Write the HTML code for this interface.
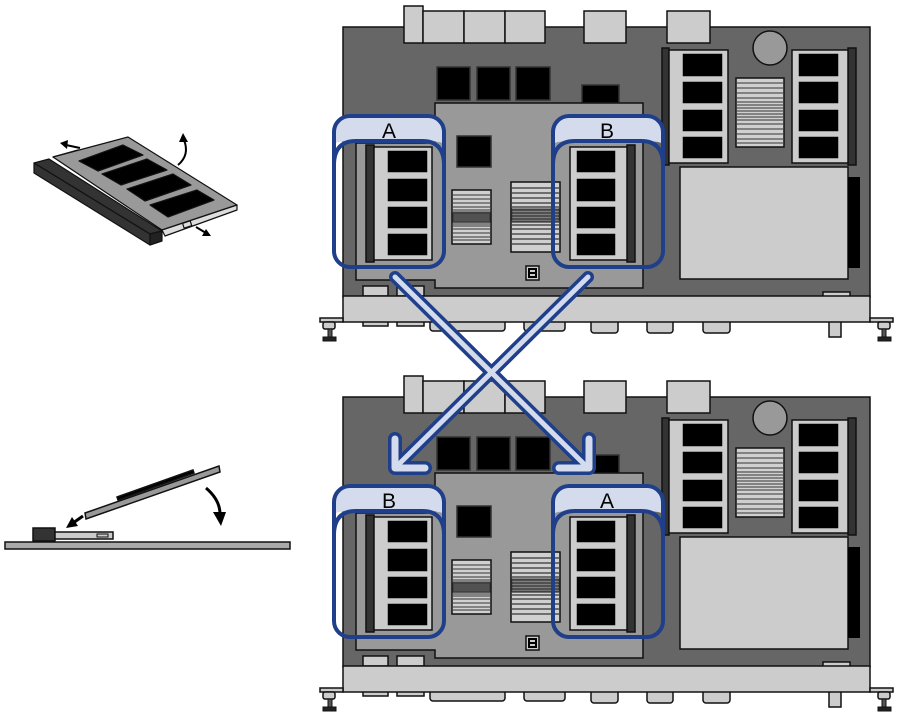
<!DOCTYPE html>
<html><head><meta charset="utf-8"><style>
html,body{margin:0;padding:0;background:#fff;}
svg{display:block;}
text{font-family:"Liberation Sans",sans-serif;}
</style></head><body>
<svg width="901" height="717" viewBox="0 0 901 717" xmlns="http://www.w3.org/2000/svg">
<defs>
<g id="hs1">
<rect x="0" y="0" width="39" height="54" fill="#d0d0d0" stroke="#111" stroke-width="1.5"/>
<g stroke="#333" stroke-width="1">
<path d="M1 5H38M1 9H38M1 13H38M1 17H38M1 20H38M1 22H38M1 24H38M1 26H38M1 28H38M1 30H38M1 32H38M1 34H38M1 36H38M1 39H38M1 43H38M1 47H38M1 50H38"/>
</g>
<rect x="1" y="23" width="37" height="9" fill="#333" opacity="0.6"/>
</g>
<g id="hs2">
<rect x="0" y="0" width="49" height="70" fill="#d0d0d0" stroke="#111" stroke-width="1.5"/>
<g stroke="#333" stroke-width="1.2">
<path d="M1 6H48M1 11H48M1 16H48M1 21H48M1 25H48M1 28H48M1 31H48M1 34H48M1 37H48M1 40H48M1 43H48M1 47H48M1 52H48M1 57H48M1 62H48"/>
</g>
<rect x="1" y="27" width="47" height="12" fill="#333" opacity="0.5"/>
</g>
<g id="hs3">
<rect x="0" y="0" width="48" height="69" fill="#d0d0d0" stroke="#111" stroke-width="1.5"/>
<g stroke="#333" stroke-width="1">
<path d="M1 5H47M1 10H47M1 15H47M1 20H47M1 24H47M1 27H47M1 30H47M1 33H47M1 36H47M1 39H47M1 42H47M1 46H47M1 51H47M1 56H47M1 61H47M1 65H47"/>
</g>
</g>
<g id="board" stroke="#111" stroke-width="1.5">
<rect x="343" y="27" width="527" height="270" fill="#666"/>
<!-- top connectors -->
<rect x="404" y="6" width="19" height="37" fill="#ccc"/>
<rect x="423" y="11" width="41" height="32" fill="#ccc"/>
<rect x="464" y="11" width="41" height="32" fill="#ccc"/>
<rect x="505" y="11" width="40" height="32" fill="#ccc"/>
<rect x="584" y="11" width="42" height="32" fill="#ccc"/>
<rect x="667" y="11" width="43" height="32" fill="#ccc"/>
<circle cx="770" cy="48" r="17" fill="#999"/>
<rect x="437" y="67" width="33" height="33" fill="#000" stroke="#333"/>
<rect x="477" y="67" width="33" height="33" fill="#000" stroke="#333"/>
<rect x="516" y="67" width="34" height="33" fill="#000" stroke="#333"/>
<rect x="582" y="85" width="37" height="18" fill="#000" stroke="#333"/>
<path d="M435 103H643V288H435V280H356V143H435Z" fill="#999"/>
<rect x="457" y="136" width="34" height="31" fill="#000" stroke="#333"/>
<use href="#hs1" x="452" y="190"/>
<use href="#hs2" x="511" y="182"/>
<rect x="526" y="266" width="13" height="14" fill="#ccc"/>
<rect x="528" y="268" width="9" height="10" fill="#000" stroke="none"/>
<rect x="530" y="270" width="5" height="2" fill="#ccc" stroke="none"/>
<rect x="530" y="274" width="5" height="2" fill="#ccc" stroke="none"/>
<rect x="366" y="145" width="8" height="117" fill="#333"/>
<rect x="374" y="147" width="58" height="113" fill="#ccc"/>
<rect x="387" y="150" width="41" height="23" fill="#000" stroke="#ccc"/>
<rect x="387" y="178" width="41" height="24" fill="#000" stroke="#ccc"/>
<rect x="387" y="206" width="41" height="23" fill="#000" stroke="#ccc"/>
<rect x="387" y="233" width="41" height="23" fill="#000" stroke="#ccc"/>
<rect x="627" y="145" width="8" height="117" fill="#333"/>
<rect x="570" y="147" width="57" height="113" fill="#ccc"/>
<rect x="576" y="150" width="40" height="23" fill="#000" stroke="#ccc"/>
<rect x="576" y="178" width="40" height="24" fill="#000" stroke="#ccc"/>
<rect x="576" y="206" width="40" height="23" fill="#000" stroke="#ccc"/>
<rect x="576" y="233" width="40" height="23" fill="#000" stroke="#ccc"/>
<rect x="662" y="48" width="7" height="117" fill="#333"/>
<rect x="669" y="50" width="59" height="113" fill="#ccc"/>
<rect x="682" y="53" width="41" height="24" fill="#000" stroke="#ccc"/>
<rect x="682" y="81" width="41" height="23" fill="#000" stroke="#ccc"/>
<rect x="682" y="109" width="41" height="23" fill="#000" stroke="#ccc"/>
<rect x="682" y="136" width="41" height="23" fill="#000" stroke="#ccc"/>
<rect x="848" y="48" width="8" height="117" fill="#333"/>
<rect x="792" y="50" width="56" height="113" fill="#ccc"/>
<rect x="798" y="53" width="41" height="24" fill="#000" stroke="#ccc"/>
<rect x="798" y="81" width="41" height="23" fill="#000" stroke="#ccc"/>
<rect x="798" y="109" width="41" height="23" fill="#000" stroke="#ccc"/>
<rect x="798" y="136" width="41" height="23" fill="#000" stroke="#ccc"/>
<use href="#hs3" x="736" y="78"/>
<rect x="680" y="167" width="168" height="112" fill="#ccc"/>
<rect x="848" y="177" width="12" height="91" fill="#000" stroke="none"/>
<rect x="363" y="286" width="25" height="10" fill="#ccc"/>
<rect x="397" y="286" width="27" height="10" fill="#ccc"/>
<rect x="823" y="292" width="27" height="5" fill="#ccc"/>
<rect x="363" y="318" width="25" height="8" fill="#ccc"/>
<rect x="397" y="318" width="27" height="8" fill="#ccc"/>
<rect x="430" y="318" width="75" height="13" rx="3" fill="#ccc"/>
<rect x="524" y="318" width="41" height="13" rx="3" fill="#ccc"/>
<rect x="591" y="318" width="27" height="15" rx="3" fill="#ccc"/>
<rect x="647" y="318" width="26" height="15" rx="3" fill="#ccc"/>
<rect x="703" y="318" width="27" height="15" rx="3" fill="#ccc"/>
<rect x="829" y="318" width="12" height="19" fill="#ccc"/>
<rect x="343" y="296" width="527" height="26" fill="#ccc"/>
<rect x="320" y="318" width="23" height="4" fill="#ccc"/>
<rect x="323" y="322" width="12" height="7" rx="2" fill="#ccc"/>
<rect x="328" y="329" width="4" height="8" fill="#555" stroke-width="1"/>
<rect x="323" y="337" width="13" height="4" fill="#222" stroke-width="1"/>
<rect x="870" y="318" width="23" height="4" fill="#ccc"/>
<rect x="878" y="322" width="12" height="7" rx="2" fill="#ccc"/>
<rect x="882" y="329" width="4" height="8" fill="#555" stroke-width="1"/>
<rect x="878" y="337" width="13" height="4" fill="#222" stroke-width="1"/>
</g>
</defs>

<use href="#board"/>
<use href="#board" y="370"/>

<g>
<path d="M334 145 V132 Q334 116 350 116 H428 Q444 116 444 132 V145 Q444 141 424 141 H354 Q334 141 334 145Z" fill="#d3dbec"/>
<rect x="334" y="116" width="110" height="151" rx="16" fill="none" stroke="#1f3f8a" stroke-width="4"/>
<path d="M334 165 Q334 141 356 141 H422 Q444 141 444 165" fill="none" stroke="#1f3f8a" stroke-width="4"/>
<text x="389" y="138" font-size="21" text-anchor="middle" fill="#000">A</text>
<path d="M553 145 V132 Q553 116 569 116 H647 Q663 116 663 132 V145 Q663 141 643 141 H573 Q553 141 553 145Z" fill="#d3dbec"/>
<rect x="553" y="116" width="110" height="151" rx="16" fill="none" stroke="#1f3f8a" stroke-width="4"/>
<path d="M553 165 Q553 141 575 141 H641 Q663 141 663 165" fill="none" stroke="#1f3f8a" stroke-width="4"/>
<text x="607" y="138" font-size="21" text-anchor="middle" fill="#000">B</text>
</g>
<g transform="translate(0,370)">
<path d="M334 145 V132 Q334 116 350 116 H428 Q444 116 444 132 V145 Q444 141 424 141 H354 Q334 141 334 145Z" fill="#d3dbec"/>
<rect x="334" y="116" width="110" height="151" rx="16" fill="none" stroke="#1f3f8a" stroke-width="4"/>
<path d="M334 165 Q334 141 356 141 H422 Q444 141 444 165" fill="none" stroke="#1f3f8a" stroke-width="4"/>
<text x="389" y="138" font-size="21" text-anchor="middle" fill="#000">B</text>
<path d="M553 145 V132 Q553 116 569 116 H647 Q663 116 663 132 V145 Q663 141 643 141 H573 Q553 141 553 145Z" fill="#d3dbec"/>
<rect x="553" y="116" width="110" height="151" rx="16" fill="none" stroke="#1f3f8a" stroke-width="4"/>
<path d="M553 165 Q553 141 575 141 H641 Q663 141 663 165" fill="none" stroke="#1f3f8a" stroke-width="4"/>
<text x="607" y="138" font-size="21" text-anchor="middle" fill="#000">A</text>
</g>

<g fill="none" stroke-linecap="round" stroke-linejoin="round">
<path d="M395 277 L586 466" stroke="#1f3f8a" stroke-width="12"/>
<path d="M589 439 V468 H559" stroke="#1f3f8a" stroke-width="14"/>
<path d="M588 277 L397 466" stroke="#1f3f8a" stroke-width="12"/>
<path d="M395 439 V468 H425" stroke="#1f3f8a" stroke-width="14"/>
<path d="M395 277 L586 466" stroke="#d3dbec" stroke-width="5"/>
<path d="M588 277 L397 466" stroke="#d3dbec" stroke-width="5"/>
<path d="M589 439 V468 H559" stroke="#d3dbec" stroke-width="7"/>
<path d="M395 439 V468 H425" stroke="#d3dbec" stroke-width="7"/>
</g>

<g stroke="#111" stroke-width="1.2" stroke-linejoin="round">
<path d="M53 157 L78 150 L88 150 L60 158Z" fill="#eee"/>
<path d="M53 157 L128 137 L237 205 L162 230Z" fill="#999"/>
<path d="M162 230 L237 205 L237 210 L165 236Z" fill="#ddd"/>
<rect x="183" y="222" width="8" height="5" fill="#ddd" transform="rotate(-18 187 224)"/>
<path d="M79 161 L123 145 L143 155 L98 171Z" fill="#000"/>
<path d="M102 174 L147 159 L167 170 L121 185Z" fill="#000"/>
<path d="M127 189 L173 174 L191 185 L145 201Z" fill="#000"/>
<path d="M150 205 L197 190 L214 200 L168 217Z" fill="#000"/>
<path d="M34 163 L49 159 L162 231 L150 234Z" fill="#333"/>
<path d="M34 163 L150 234 L150 245 L34 173Z" fill="#333"/>
<path d="M150 234 L162 231 L162 241 L150 245Z" fill="#222"/>
</g>
<g stroke="#000" stroke-width="2" fill="none">
<path d="M80 148 L66 145"/>
<path d="M178 165 Q190 155 184 140"/>
<path d="M196 227 L206 233"/>
</g>
<g fill="#000">
<path d="M60 143 L68 140 L67 149Z"/>
<path d="M183 133 L179 142 L188 142Z"/>
<path d="M211 236 L202 236 L206 229Z"/>
</g>

<g stroke="#111" stroke-width="1.5">
<rect x="5" y="542" width="285" height="7" fill="#aaa"/>
<rect x="33" y="528" width="22" height="13" fill="#333"/>
<rect x="55" y="532" width="58" height="7" fill="#ccc"/>
<rect x="97" y="534" width="11" height="3" fill="#ccc" stroke-width="1"/>
<path d="M85 513 L219 466 L220 472 L86 519Z" fill="#999"/>
<path d="M117 497 L193 470 L194 473 L118 500Z" fill="#000"/>
</g>
<g stroke="#000" stroke-width="3" fill="none">
<path d="M83 516 L73 523"/>
<path d="M206 488 Q220 500 220 514"/>
</g>
<g fill="#000">
<path d="M66 528 L72 517 L78 526Z"/>
<path d="M221 526 L213 512 L226 512Z"/>
</g>
</svg>
</body></html>
